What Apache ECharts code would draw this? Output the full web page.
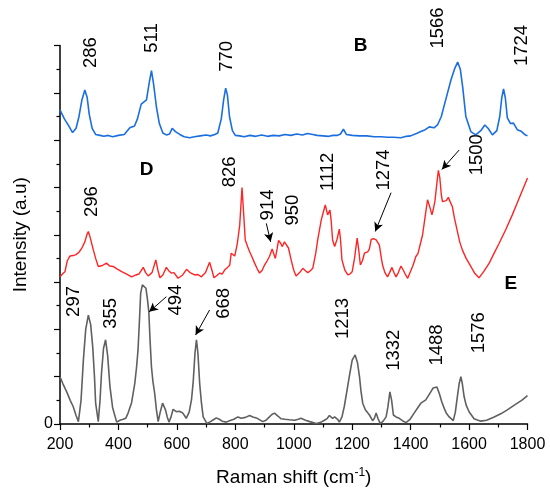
<!DOCTYPE html>
<html>
<head>
<meta charset="utf-8">
<script src="https://cdn.jsdelivr.net/npm/echarts@6/dist/echarts.min.js"></script>
<style>html,body{margin:0;padding:0;background:#fff;}#c{width:550px;height:494px;}</style>
</head>
<body>
<div id="c"></div>
<script>
// ---- Data ----
const xTicks = [200, 400, 600, 800, 1000, 1200, 1400, 1600, 1800];

const shiftB = [200,215,230,243,255,265,275,285,293,300,310,322,337,350,365,380,400,420,439,455,465,478,496,505,513,520,530,540,552,564,575,584,595,610,625,644,660,680,700,715,730,740,752,760,767,773,780,790,800,815,830,850,870,890,910,930,950,970,990,1010,1030,1047,1065,1080,1100,1120,1135,1150,1160,1170,1180,1200,1225,1250,1275,1300,1320,1340,1367,1385,1400,1420,1435,1450,1464,1480,1492,1505,1520,1538,1550,1561,1570,1578,1589,1606,1623,1640,1654,1665,1680,1695,1705,1712,1718,1724,1731,1742,1752,1765,1780,1790,1800];
const intB = [6.64,6.45,6.30,6.16,6.25,6.50,6.85,7.06,6.90,6.55,6.25,6.12,6.10,6.08,6.10,6.07,6.10,6.12,6.26,6.30,6.45,6.76,6.85,7.20,7.47,7.20,6.70,6.35,6.15,6.11,6.13,6.25,6.18,6.12,6.07,6.05,6.07,6.09,6.11,6.09,6.12,6.15,6.45,6.85,7.10,6.95,6.50,6.20,6.10,6.09,6.07,6.10,6.08,6.11,6.08,6.10,6.09,6.12,6.10,6.13,6.11,6.14,6.12,6.10,6.09,6.08,6.10,6.10,6.13,6.23,6.12,6.10,6.09,6.09,6.07,6.07,6.06,6.06,6.05,6.08,6.09,6.14,6.18,6.22,6.28,6.26,6.32,6.50,6.85,7.27,7.50,7.65,7.50,7.13,6.50,6.18,6.11,6.20,6.32,6.25,6.11,6.20,6.50,6.90,7.08,6.90,6.47,6.35,6.36,6.22,6.18,6.12,6.09];

const shiftD = [200,210,217,225,234,245,255,265,274,285,292,297,303,314,322,331,345,359,370,382,395,411,425,445,460,470,485,493,502,515,528,535,542,552,564,572,581,590,604,620,633,645,661,672,684,698,712,720,727,737,747,755,764,772,781,786,792,798,807,815,823,829,834,842,849,858,866,875,883,892,900,909,917,926,937,943,948,955,961,968,974,982,991,1000,1008,1020,1031,1040,1048,1057,1065,1075,1082,1094,1100,1108,1116,1124,1128,1133,1140,1148,1156,1160,1165,1175,1185,1192,1200,1208,1217,1222,1228,1235,1242,1248,1253,1259,1265,1273,1282,1293,1300,1304,1312,1321,1328,1336,1343,1350,1358,1367,1375,1383,1390,1398,1408,1418,1425,1433,1441,1450,1458,1465,1473,1478,1483,1490,1495,1500,1505,1509,1515,1522,1529,1535,1543,1550,1560,1568,1577,1590,1606,1620,1634,1650,1669,1685,1703,1725,1748,1770,1800];
const intD = [3.11,3.18,3.22,3.45,3.55,3.56,3.58,3.63,3.71,3.85,4.00,4.07,3.95,3.68,3.50,3.33,3.35,3.40,3.34,3.33,3.28,3.22,3.18,3.11,3.15,3.17,3.31,3.20,3.13,3.20,3.47,3.25,3.09,3.15,3.31,3.24,3.19,3.20,3.08,3.15,3.27,3.20,3.15,3.16,3.11,3.20,3.42,3.25,3.09,3.14,3.19,3.17,3.26,3.30,3.36,3.61,3.58,3.55,3.82,4.20,5.00,4.40,3.89,3.75,3.64,3.52,3.40,3.28,3.19,3.25,3.36,3.45,3.54,3.70,3.50,3.70,3.88,3.82,3.75,3.85,3.88,3.72,3.47,3.25,3.13,3.20,3.29,3.24,3.20,3.24,3.29,3.60,3.89,4.31,4.45,4.63,4.42,4.52,4.30,3.89,3.75,3.90,4.12,3.90,3.47,3.25,3.15,3.17,3.22,3.50,3.93,3.70,3.36,3.45,3.61,3.58,3.64,3.70,3.90,3.92,3.89,3.78,3.50,3.36,3.20,3.11,3.20,3.31,3.20,3.11,3.20,3.34,3.25,3.15,3.08,3.20,3.35,3.54,3.60,3.80,4.00,4.40,4.74,4.60,4.42,4.55,4.70,5.10,5.36,5.20,4.85,4.70,4.68,4.72,4.79,4.70,4.59,4.35,4.07,3.85,3.68,3.50,3.33,3.18,3.09,3.22,3.40,3.60,3.82,4.10,4.42,4.75,5.20];

const shiftE = [200,210,223,235,245,255,263,272,280,288,297,305,312,318,322,331,337,342,349,356,363,371,380,394,405,416,425,433,445,456,462,467,472,476,482,488,494,499,504,508,513,518,524,530,536,543,551,556,561,567,573,580,587,598,608,619,626,632,642,650,656,662,667,672,678,684,690,703,715,725,735,745,755,769,780,795,809,820,835,849,860,875,894,905,915,925,934,945,957,970,985,1003,1015,1025,1040,1055,1077,1090,1105,1115,1122,1128,1133,1140,1145,1150,1156,1165,1173,1182,1190,1200,1210,1218,1225,1230,1236,1245,1259,1270,1276,1282,1288,1296,1306,1316,1322,1329,1335,1341,1350,1361,1372,1384,1398,1412,1425,1435,1452,1469,1477,1483,1490,1498,1506,1515,1523,1532,1546,1553,1560,1566,1572,1577,1583,1590,1600,1617,1640,1660,1686,1710,1731,1760,1780,1800];
const intE = [1.00,0.85,0.68,0.50,0.37,0.18,0.05,0.50,1.35,2.00,2.30,2.10,1.63,1.00,0.44,0.05,0.50,1.07,1.60,1.78,1.45,0.79,0.35,0.04,0.08,0.10,0.12,0.23,0.45,0.86,1.20,1.56,2.20,2.76,2.94,2.92,2.87,2.65,2.37,1.80,1.21,0.90,0.65,0.30,0.05,0.25,0.44,0.40,0.30,0.15,0.04,0.15,0.31,0.26,0.27,0.24,0.18,0.12,0.25,0.51,0.90,1.50,1.78,1.50,0.86,0.45,0.15,0.01,0.05,0.09,0.13,0.10,0.06,0.04,0.07,0.10,0.15,0.12,0.14,0.18,0.15,0.12,0.05,0.08,0.14,0.20,0.23,0.17,0.11,0.10,0.09,0.08,0.10,0.12,0.08,0.05,0.01,0.03,0.08,0.12,0.18,0.14,0.12,0.15,0.18,0.10,0.04,0.15,0.37,0.70,1.00,1.35,1.46,1.30,1.00,0.70,0.44,0.30,0.19,0.07,0.12,0.23,0.12,0.01,0.06,0.15,0.35,0.68,0.50,0.19,0.15,0.12,0.07,0.03,0.10,0.23,0.35,0.44,0.51,0.68,0.76,0.80,0.78,0.65,0.48,0.33,0.22,0.15,0.07,0.25,0.58,0.85,1.00,0.85,0.58,0.40,0.26,0.11,0.06,0.08,0.15,0.22,0.30,0.42,0.50,0.60];

// Peak annotation labels: text, shift, intensity (label centre)
const peakLabels = ['286','511','770','1566','1724','296','826','914','950','1112','1274','1500','297','355','494','668','1213','1332','1488','1576'];
const peakLabelX = [305,516,772,1492,1782,308,781,911,997,1116,1308,1627,248,373,596,760,1168,1344,1490,1634];
const peakLabelY = [7.85,8.16,7.77,8.37,8.00,4.70,5.33,4.63,4.52,5.33,5.37,5.69,2.59,2.34,2.62,2.55,2.23,1.56,1.67,1.93];

// Spectrum letters
const curveNames = ['B','D','E'];
const curveNameX = [1229,496,1743];
const curveNameY = [7.99,5.38,2.97];

// Arrows: start (x,y) -> end (x,y)
const arrowFromX = [906,1333,1566,564,712];
const arrowFromY = [4.24,4.89,5.79,2.69,2.41];
const arrowToX = [921,1279,1507,505,664];
const arrowToY = [3.85,4.07,5.38,2.37,1.88];

// ---- Chart ----
const FONT = '"Liberation Sans", Arial, sans-serif';
const zip = (a, b) => a.map((v, i) => [v, b[i]]);
const chart = echarts.init(document.getElementById('c'), null, {renderer: 'canvas'});

const arrowData = arrowFromX.map((x, i) => [
  {coord: [x, arrowFromY[i]]},
  {coord: [arrowToX[i], arrowToY[i]]}
]);

const option = {
  backgroundColor: '#ffffff',
  animation: false,
  grid: {left: 60, right: 22.5, top: 45.5, bottom: 70},
  xAxis: {
    type: 'value', min: 200, max: 1800, interval: 200,
    name: 'Raman shift (cm{sup|-1})',
    nameLocation: 'middle', nameGap: 43,
    nameTextStyle: {fontFamily: FONT, fontSize: 19, color: '#000',
      rich: {sup: {fontFamily: FONT, fontSize: 12, color: '#000', padding: [0, 0, 9, 0]}}},
    axisLine: {lineStyle: {color: '#000', width: 1.5}},
    axisTick: {show: true, inside: false, length: 6, lineStyle: {color: '#000', width: 1.2}},
    minorTick: {show: true, splitNumber: 2, length: 3.5, lineStyle: {color: '#000', width: 1.2}},
    axisLabel: {fontFamily: FONT, fontSize: 16, color: '#000', margin: 13,
      formatter: v => xTicks.indexOf(v) >= 0 ? String(v) : ''},
    splitLine: {show: false}
  },
  yAxis: {
    type: 'value', min: 0, max: 8, interval: 1,
    name: 'Intensity (a.u)', nameLocation: 'middle', nameGap: 30,
    nameTextStyle: {fontFamily: FONT, fontSize: 19, color: '#000'},
    axisLine: {show: true, lineStyle: {color: '#000', width: 1.5}},
    axisTick: {show: true, inside: false, length: 6, lineStyle: {color: '#000', width: 1.2}},
    minorTick: {show: true, splitNumber: 2, length: 3.5, lineStyle: {color: '#000', width: 1.2}},
    axisLabel: {fontFamily: FONT, fontSize: 16, color: '#000', margin: 7,
      formatter: v => v === 0 ? '0' : ''},
    splitLine: {show: false}
  },
  series: [
    {type: 'line', name: 'B', data: zip(shiftB, intB), showSymbol: false, symbol: 'none',
      lineStyle: {color: '#1a6ee0', width: 1.6}, itemStyle: {color: '#1a6ee0'}},
    {type: 'line', name: 'D', data: zip(shiftD, intD), showSymbol: false, symbol: 'none',
      lineStyle: {color: '#ff2424', width: 1.4}, itemStyle: {color: '#ff2424'}},
    {type: 'line', name: 'E', data: zip(shiftE, intE), showSymbol: false, symbol: 'none',
      lineStyle: {color: '#606060', width: 1.6}, itemStyle: {color: '#606060'},
      markLine: {silent: true, symbol: ['none', 'arrow'], symbolSize: [7, 9],
        lineStyle: {color: '#000', width: 1, type: 'solid'},
        label: {show: false}, data: arrowData}}
  ]
};
chart.setOption(option);

// Place text annotations through the chart's own coordinate conversion
const graphics = [];
peakLabels.forEach((t, i) => {
  const p = chart.convertToPixel({gridIndex: 0}, [peakLabelX[i], peakLabelY[i]]);
  graphics.push({type: 'text', x: p[0], y: p[1], rotation: Math.PI / 2, silent: true,
    style: {text: t, font: '18.5px ' + FONT, fill: '#000',
      align: 'center', verticalAlign: 'middle', textAlign: 'center', textVerticalAlign: 'middle'}});
});
curveNames.forEach((t, i) => {
  const p = chart.convertToPixel({gridIndex: 0}, [curveNameX[i], curveNameY[i]]);
  graphics.push({type: 'text', x: p[0], y: p[1], silent: true,
    style: {text: t, font: 'bold 19px ' + FONT, fill: '#000',
      align: 'center', verticalAlign: 'middle', textAlign: 'center', textVerticalAlign: 'middle'}});
});
chart.setOption({graphic: graphics});
</script>
</body>
</html>
